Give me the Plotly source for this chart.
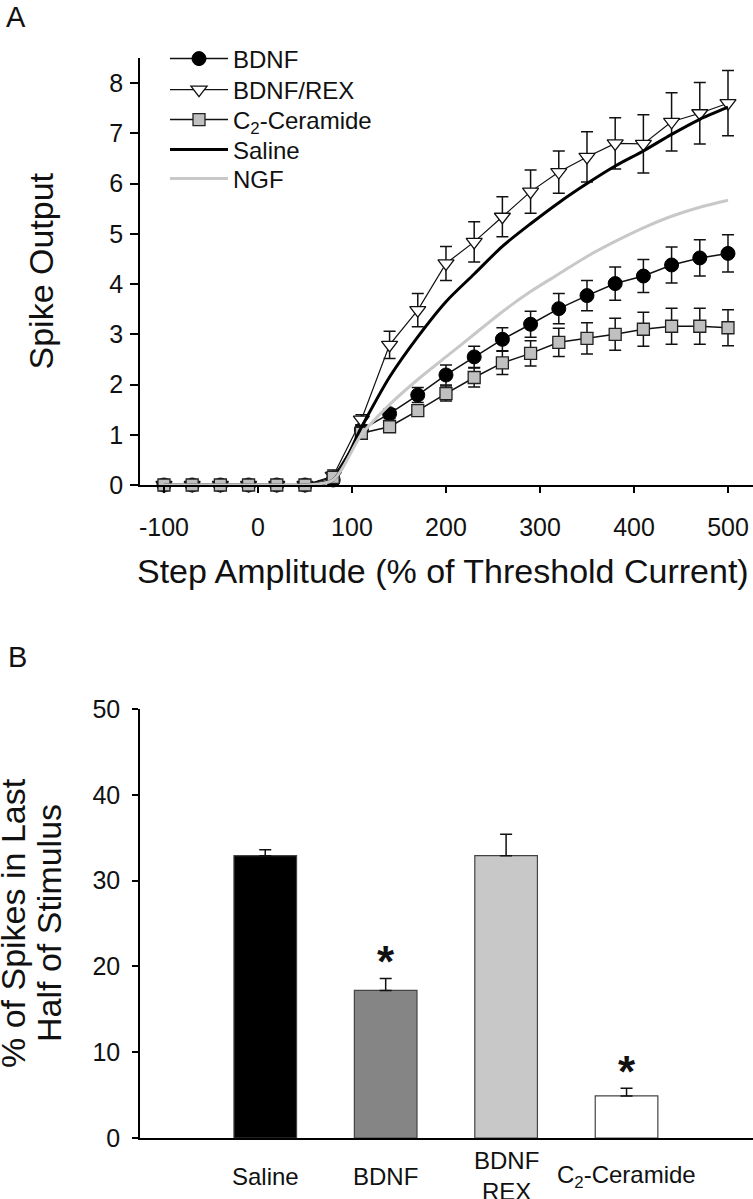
import plotly.graph_objects as go

# ---------------- Panel A data ----------------
step_amp = [-100, -70, -40, -10, 20, 50, 80, 110, 140, 170, 200, 230, 260, 290,
            320, 350, 380, 410, 440, 470, 500]

bdnf = [0, 0, 0, 0, 0, 0, 0.10, 1.10, 1.42, 1.79, 2.19, 2.55, 2.90, 3.20,
        3.51, 3.77, 4.01, 4.16, 4.38, 4.52, 4.61]
bdnf_err = [0, 0, 0, 0, 0, 0, 0.10, 0.10, 0.10, 0.15, 0.20, 0.21, 0.23, 0.26,
            0.30, 0.30, 0.33, 0.33, 0.36, 0.36, 0.37]

bdnf_rex = [0, 0, 0, 0, 0, 0, 0.18, 1.30, 2.79, 3.48, 4.41, 4.84, 5.34, 5.84,
            6.23, 6.53, 6.80, 6.79, 7.23, 7.40, 7.60]
bdnf_rex_err = [0, 0, 0, 0, 0, 0, 0.12, 0.10, 0.27, 0.33, 0.34, 0.40, 0.40, 0.43,
                0.42, 0.50, 0.51, 0.58, 0.58, 0.61, 0.65]

ceramide = [0, 0, 0, 0, 0, 0, 0.15, 1.03, 1.16, 1.48, 1.82, 2.14, 2.43, 2.62,
            2.84, 2.92, 3.00, 3.10, 3.16, 3.16, 3.13]
ceramide_err = [0, 0, 0, 0, 0, 0, 0.10, 0.08, 0.08, 0.10, 0.15, 0.19, 0.23, 0.25,
                0.28, 0.31, 0.32, 0.34, 0.36, 0.36, 0.36]

saline = [0, 0, 0, 0, 0, 0, 0.10, 1.15, 2.15, 2.95, 3.65, 4.20, 4.75, 5.20,
          5.62, 6.00, 6.35, 6.65, 6.98, 7.28, 7.52]

ngf = [0, 0, 0, 0, 0, 0, 0.10, 1.00, 1.60, 2.10, 2.55, 3.00, 3.45, 3.85,
       4.20, 4.55, 4.85, 5.12, 5.35, 5.53, 5.67]

x_ticks_a = [-100, 0, 100, 200, 300, 400, 500]
x_ticklabels_a = ["-100", "0", "100", "200", "300", "400", "500"]
y_ticks_a = [0, 1, 2, 3, 4, 5, 6, 7, 8]

# ---------------- Panel B data ----------------
groups = ["Saline", "BDNF", "BDNF REX", "C2-Ceramide"]
group_labels = ["Saline", "BDNF", "BDNF<br>REX", "C<sub>2</sub>-Ceramide"]
pct_last_half = [32.9, 17.2, 32.9, 4.9]
pct_err = [0.7, 1.4, 2.5, 0.9]
bar_colors = ["#000000", "#858585", "#c8c8c8", "#ffffff"]
significant = [False, True, False, True]
y_ticks_b = [0, 10, 20, 30, 40, 50]

FONT = "Arial, Liberation Sans, sans-serif"
TXT = "#111111"

# plot-area geometry in pixels
W, H = 753, 1199
L = 140
R = 0
PW = W - L - R


def pxx(ref):
    return (ref - L) / PW


def py(ref):
    return 1 - ref / H


fig = go.Figure()

err_style = dict(type="data", thickness=1.5, width=6, color=TXT)

fig.add_trace(go.Scatter(
    x=step_amp, y=bdnf, name="BDNF", mode="lines+markers", legend="legend",
    line=dict(color=TXT, width=1.5),
    marker=dict(symbol="circle", size=14, color="#000000",
                line=dict(color="#000000", width=1)),
    error_y=dict(array=bdnf_err, **err_style),
    cliponaxis=False, xaxis="x", yaxis="y"))

fig.add_trace(go.Scatter(
    x=step_amp, y=bdnf_rex, name="BDNF/REX", mode="lines+markers", legend="legend2",
    line=dict(color=TXT, width=1.2),
    marker=dict(symbol="triangle-down", size=14, color="#ffffff",
                line=dict(color=TXT, width=1.3)),
    error_y=dict(array=bdnf_rex_err, **err_style),
    cliponaxis=False, xaxis="x", yaxis="y"))

fig.add_trace(go.Scatter(
    x=step_amp, y=ceramide, name="C<sub>2</sub>-Ceramide", mode="lines+markers",
    legend="legend3",
    line=dict(color=TXT, width=1.5),
    marker=dict(symbol="square", size=12, color="#c0c0c0",
                line=dict(color="#222222", width=1.3)),
    error_y=dict(array=ceramide_err, **err_style),
    cliponaxis=False, xaxis="x", yaxis="y"))

fig.add_trace(go.Scatter(
    x=step_amp, y=saline, name="Saline", mode="lines", legend="legend4",
    line=dict(color="#000000", width=3, shape="spline", smoothing=0.8),
    cliponaxis=False, xaxis="x", yaxis="y"))

fig.add_trace(go.Scatter(
    x=step_amp, y=ngf, name="NGF", mode="lines", legend="legend5",
    line=dict(color="#c8c8c8", width=3, shape="spline", smoothing=0.8),
    cliponaxis=False, xaxis="x", yaxis="y"))

# Panel B bars
fig.add_trace(go.Bar(
    x=groups, y=pct_last_half, width=0.52,
    marker=dict(color=bar_colors, line=dict(color="#444444", width=1.2)),
    error_y=dict(type="data", symmetric=False, array=pct_err,
                 arrayminus=[0] * len(pct_err), thickness=1.5, width=6,
                 color=TXT),
    showlegend=False, xaxis="x2", yaxis="y2"))

axis_common = dict(showgrid=False, zeroline=False, showline=True, automargin=False,
                   linecolor="#000000", linewidth=1.5, ticks="outside",
                   tickcolor="#000000", tickwidth=1.5,
                   tickfont=dict(family=FONT, size=25, color=TXT))

fig.update_layout(
    width=W, height=H,
    margin=dict(l=L, r=R, t=0, b=0, autoexpand=False),
    paper_bgcolor="white", plot_bgcolor="white",
    font=dict(family=FONT, color=TXT),
    xaxis=dict(domain=[0, 1], range=[-125.5, 526.6], tickvals=x_ticks_a,
               ticktext=x_ticklabels_a, ticklen=6, anchor="y",
               ticklabelstandoff=13, **axis_common),
    yaxis=dict(domain=[py(485), py(58)], range=[0, 8.5], tickvals=y_ticks_a,
               ticklen=8, anchor="x", ticklabelstandoff=2, **axis_common),
    xaxis2=dict(domain=[0, 1], range=[-1.04, 4.05], showgrid=False, zeroline=False,
                showline=True, linecolor="#000000", linewidth=1.5, ticks="",
                automargin=False, showticklabels=False, anchor="y2",
                type="category"),
    yaxis2=dict(domain=[py(1138), py(709)], range=[0, 50], tickvals=y_ticks_b,
                ticklen=6, anchor="x2", ticklabelstandoff=7, **axis_common),
    showlegend=True,
)

# one legend box per entry so the rows keep the reference spacing
legend_rows = {"legend": 59, "legend2": 90, "legend3": 120, "legend4": 150, "legend5": 179}
for key, row in legend_rows.items():
    fig.update_layout({key: dict(x=pxx(165), y=py(row), xanchor="left", yanchor="middle",
                                 bgcolor="rgba(0,0,0,0)",
                                 font=dict(family=FONT, size=24, color=TXT),
                                 tracegroupgap=0, itemwidth=58)})

big = dict(family=FONT, size=34, color=TXT)
annotations = [
    dict(text="A", x=pxx(16), y=py(17), font=dict(family=FONT, size=29, color=TXT)),
    dict(text="B", x=pxx(17), y=py(657), font=dict(family=FONT, size=29, color=TXT)),
    dict(text="Spike Output", x=pxx(40), y=py(271.5), textangle=-90, font=big),
    dict(text="Step Amplitude (% of Threshold Current)", x=pxx(443), y=py(571), font=big),
    dict(text="% of Spikes in Last", x=pxx(13), y=py(923), textangle=-90, font=big),
    dict(text="Half of Stimulus", x=pxx(49), y=py(923), textangle=-90, font=big),
]
for a in annotations:
    a.update(xref="paper", yref="paper", showarrow=False,
             xanchor="center", yanchor="middle")

for g, lab in zip(groups, group_labels):
    annotations.append(dict(text=lab, x=g, y=py(1176), xref="x2", yref="paper",
                            showarrow=False, xanchor="center", yanchor="middle",
                            font=dict(family=FONT, size=24, color=TXT)))

for g, v, e, s in zip(groups, pct_last_half, pct_err, significant):
    if s:
        annotations.append(dict(text="<b>*</b>", x=g, y=v + e, xref="x2", yref="y2",
                                showarrow=False, xanchor="center", yanchor="bottom",
                                yshift=-10,
                                font=dict(family=FONT, size=44, color=TXT)))

fig.update_layout(annotations=annotations)

# remove the default page margin so the figure fills the window exactly
fig.write_html("out.html", config={"displayModeBar": False},
               post_script="document.body.style.margin='0';")
